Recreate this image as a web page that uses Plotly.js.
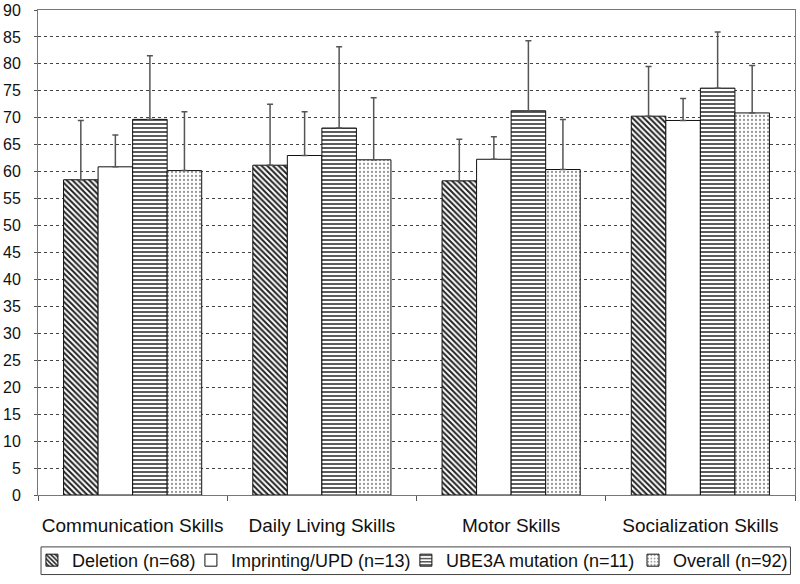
<!DOCTYPE html>
<html>
<head>
<meta charset="utf-8">
<script src="https://cdn.plot.ly/plotly-3.0.1.min.js"></script>
<style>
  html, body { margin: 0; padding: 0; background: #fff; }
  #chart { width: 800px; height: 584px; }
</style>
</head>
<body>
<div id="chart"></div>
<script>
// domains on the x axis
const skills = ['Communication Skills', 'Daily Living Skills', 'Motor Skills', 'Socialization Skills'];

// group names for the legend
const groups = ['Deletion (n=68)', 'Imprinting/UPD (n=13)', 'UBE3A mutation (n=11)', 'Overall (n=92)'];

// mean scores, one array per group
const deletionMean = [58.5, 61.2, 58.3, 70.3];
const imprintingMean = [60.9, 63.0, 62.3, 69.5];
const ube3aMean = [69.7, 68.1, 71.3, 75.5];
const overallMean = [60.2, 62.2, 60.4, 70.9];

// standard deviations (upper error bar only)
const deletionSd = [11.0, 11.3, 7.7, 9.2];
const imprintingSd = [5.9, 8.1, 4.2, 4.1];
const ube3aSd = [11.8, 15.1, 13.0, 10.4];
const overallSd = [10.9, 11.5, 9.3, 8.8];

const yTicks = [0, 5, 10, 15, 20, 25, 30, 35, 40, 45, 50, 55, 60, 65, 70, 75, 80, 85, 90];

const means = [deletionMean, imprintingMean, ube3aMean, overallMean];
const sds = [deletionSd, imprintingSd, ube3aSd, overallSd];
const patterns = [
  { shape: '\\', fgcolor: '#222', bgcolor: '#fff', size: 4, solidity: 0.5 },
  { shape: '', bgcolor: '#fff' },
  { shape: '-', fgcolor: '#333', bgcolor: '#fff', size: 4, solidity: 0.4 },
  { shape: '.', fgcolor: '#999', bgcolor: '#fff', size: 4, solidity: 0.25 }
];

// one legend per group so the row keeps on one line like the original
const legendIds = ['legend', 'legend2', 'legend3', 'legend4'];
const legendX = [-0.008, 0.202, 0.486, 0.786];

const data = groups.map((name, i) => ({
  type: 'bar',
  name: name,
  legend: legendIds[i],
  x: skills,
  y: means[i],
  marker: {
    color: '#fff',
    line: { color: '#111', width: 1 },
    pattern: patterns[i]
  },
  error_y: {
    type: 'data',
    symmetric: false,
    array: sds[i],
    arrayminus: sds[i].map(() => 0),
    color: '#555',
    thickness: 1.5,
    width: 3
  }
}));

const layout = {
  width: 800,
  height: 584,
  margin: { l: 38, r: 5, t: 10, b: 86 },
  paper_bgcolor: '#fff',
  plot_bgcolor: '#fff',
  font: { family: 'Liberation Sans, Arial, sans-serif', size: 16, color: '#111' },
  barmode: 'group',
  bargap: 0.27,
  bargroupgap: 0,
  showlegend: true,
  xaxis: {
    showgrid: false,
    showline: true,
    linecolor: '#777',
    linewidth: 1,
    mirror: true,
    ticks: 'outside',
    tickson: 'boundaries',
    ticklen: 5,
    tickcolor: '#555',
    tickangle: 0,
    ticklabelstandoff: 13,
    tickfont: { size: 19 }
  },
  yaxis: {
    range: [0, 90],
    tickvals: yTicks,
    showgrid: true,
    gridcolor: '#444',
    griddash: 'dot',
    gridwidth: 1,
    zeroline: false,
    showline: true,
    linecolor: '#777',
    linewidth: 1,
    mirror: true,
    ticks: 'outside',
    ticklen: 3,
    tickcolor: '#555',
    ticklabelstandoff: 10,
    tickfont: { size: 16 }
  },
  shapes: [{
    type: 'rect', xref: 'paper', yref: 'paper',
    x0: 0.004, x1: 0.994, y0: -0.164, y1: -0.107,
    line: { color: '#444', width: 1 }
  }]
};

legendIds.forEach((id, i) => {
  layout[id] = {
    orientation: 'h',
    x: legendX[i],
    xanchor: 'left',
    y: -0.135,
    yanchor: 'middle',
    bgcolor: 'rgba(0,0,0,0)',
    borderwidth: 0,
    font: { size: 18 },
    itemwidth: 30
  };
});

Plotly.newPlot('chart', data, layout, { displayModeBar: false, staticPlot: true });
</script>
</body>
</html>
